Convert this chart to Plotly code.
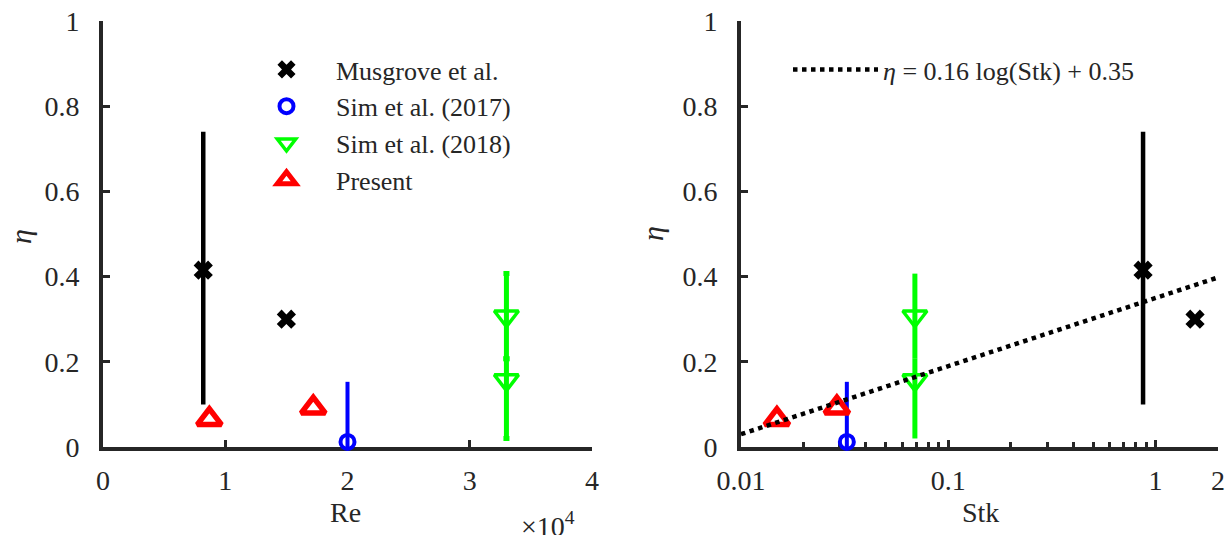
import plotly.graph_objects as go

# ---------------- data ----------------
# Left panel: eta vs Re
mus_re = [8200, 15000]
mus_eta = [0.415, 0.30]
mus_err_plus = [0.325, 0.01]
mus_err_minus = [0.315, 0.01]

sim17_re = [20000]
sim17_eta = [0.012]
sim17_err_plus = [0.141]
sim17_err_minus = [0.012]

sim18_re = [33000, 33000]
sim18_eta = [0.307, 0.157]
sim18_err_plus = [0.10, 0.05]
sim18_err_minus = [0.10, 0.137]

pres_re = [8700, 17200]
pres_eta = [0.065, 0.092]

# Right panel: eta vs Stk
mus_stk = [0.87, 1.55]
sim17_stk = [0.0324]
sim18_stk = [0.069, 0.069]
pres_stk = [0.0149, 0.029]

fit_stk = [0.01, 2.0]
fit_eta = [0.03, 0.398]

y_ticks = [0, 0.2, 0.4, 0.6, 0.8, 1]
y_ticktext = ["0", "0.2", "0.4", "0.6", "0.8", "1"]
re_ticks = [0, 10000, 20000, 30000, 40000]
re_ticktext = ["0", "1", "2", "3", "4"]
stk_ticks = [0.01, 0.1, 1, 2]
stk_ticktext = ["0.01", "0.1", "1", "2"]
stk_minor = [0.02, 0.03, 0.04, 0.05, 0.06, 0.07, 0.08, 0.09,
             0.2, 0.3, 0.4, 0.5, 0.6, 0.7, 0.8, 0.9]

# ---------------- styles ----------------
FONT = "Liberation Serif"
AX = "#262626"
BLACK = "#000000"
BLUE = "#0000ff"
GREEN = "#00ff00"
RED = "#ff0000"

fig = go.Figure()

def add_sets(xmus, xs17, xs18, xpres, xa, ya, legend, show, caps):
    fig.add_trace(go.Scatter(
        x=xmus, y=mus_eta, mode="markers", name="Musgrove et al.",
        xaxis=xa, yaxis=ya, legend=legend, showlegend=show, cliponaxis=False,
        marker=dict(symbol="x", size=17, color=BLACK),
        error_y=dict(type="data", array=mus_err_plus, arrayminus=mus_err_minus,
                     color=BLACK, thickness=4.5, width=0)))
    fig.add_trace(go.Scatter(
        x=xs17, y=sim17_eta, mode="markers", name="Sim et al. (2017)",
        xaxis=xa, yaxis=ya, legend=legend, showlegend=show, cliponaxis=False,
        marker=dict(symbol="circle-open", size=14, color=BLUE, line=dict(width=4, color=BLUE)),
        error_y=dict(type="data", array=sim17_err_plus, arrayminus=sim17_err_minus,
                     color=BLUE, thickness=4, width=0)))
    fig.add_trace(go.Scatter(
        x=xs18, y=sim18_eta, mode="markers", name="Sim et al. (2018)",
        xaxis=xa, yaxis=ya, legend=legend, showlegend=show, cliponaxis=False,
        marker=dict(symbol="triangle-down-open", size=21, color=GREEN, line=dict(width=3.5, color=GREEN)),
        error_y=dict(type="data", array=sim18_err_plus, arrayminus=sim18_err_minus,
                     color=GREEN, thickness=5, width=caps)))
    fig.add_trace(go.Scatter(
        x=xpres, y=pres_eta, mode="markers", name="Present",
        xaxis=xa, yaxis=ya, legend=legend, showlegend=show, cliponaxis=False,
        marker=dict(symbol="triangle-up-open", size=21, color=RED, line=dict(width=5.5, color=RED))))

add_sets(mus_re, sim17_re, sim18_re, pres_re, "x", "y", "legend", True, 3)
add_sets(mus_stk, sim17_stk, sim18_stk, pres_stk, "x2", "y2", "legend", False, 0)

fig.add_trace(go.Scatter(
    x=fit_stk, y=fit_eta, mode="lines", xaxis="x2", yaxis="y2",
    name="<i>η</i> = 0.16 log(Stk) + 0.35", legend="legend2", showlegend=True,
    line=dict(color=BLACK, width=4.5, dash="dot")))

# ---------------- layout ----------------
ydom = [1 - 447 / 535, 1 - 21 / 535]
tickfont = dict(family=FONT, size=28, color=AX)

common_axis = dict(showline=True, linecolor=AX, linewidth=4, ticks="inside",
                   tickcolor=AX, tickwidth=3, ticklen=7, showgrid=False,
                   zeroline=False, tickfont=tickfont, layer="below traces",
                   automargin=False)

def label(text, x, y, size=28, angle=0):
    return dict(text=text, x=x / 1229, y=1 - y / 535, xref="paper", yref="paper",
                xanchor="center", yanchor="middle", showarrow=False,
                textangle=angle, font=dict(family=FONT, size=size, color=AX))

fig.update_layout(
    width=1229, height=535,
    margin=dict(l=0, r=0, t=0, b=0, autoexpand=False),
    paper_bgcolor="white", plot_bgcolor="white",
    xaxis=dict(domain=[103 / 1229, 592 / 1229], range=[0, 40000],
               tickvals=re_ticks, ticktext=re_ticktext, anchor="y",
               ticklabelstandoff=5, **common_axis),
    yaxis=dict(domain=ydom, range=[0, 1], tickvals=y_ticks, ticktext=y_ticktext,
               anchor="x", ticklabelstandoff=14, **common_axis),
    xaxis2=dict(domain=[741 / 1229, 1218 / 1229], type="log",
                range=[-2, 0.30103], tickvals=stk_ticks, ticktext=stk_ticktext,
                anchor="y2", ticklabelstandoff=5,
                minor=dict(tickvals=stk_minor, ticks="inside", ticklen=5,
                           tickwidth=3, tickcolor=AX),
                **common_axis),
    yaxis2=dict(domain=ydom, range=[0, 1], tickvals=y_ticks, ticktext=y_ticktext,
                anchor="x2", ticklabelstandoff=14, **common_axis),
    legend=dict(x=237 / 1229, y=1 - 46 / 535, xanchor="left", yanchor="top",
                bgcolor="rgba(0,0,0,0)", borderwidth=0,
                font=dict(family=FONT, size=26, color=AX),
                itemwidth=89, tracegroupgap=0),
    legend2=dict(x=788 / 1229, y=1 - 46 / 535, xanchor="left", yanchor="top",
                 bgcolor="rgba(0,0,0,0)", borderwidth=0,
                 font=dict(family=FONT, size=26, color=AX),
                 itemwidth=85),
    annotations=[
        label("Re", 345, 512),
        label("Stk", 980, 512),
        label("×10<sup>4</sup>", 548, 524),
        label("<i>η</i>", 20, 237, size=30, angle=-90),
        label("<i>η</i>", 652, 234, size=30, angle=-90),
    ],
)

fig.write_html("out.html", config={"displayModeBar": False},
               post_script="document.body.style.margin='0px';")
